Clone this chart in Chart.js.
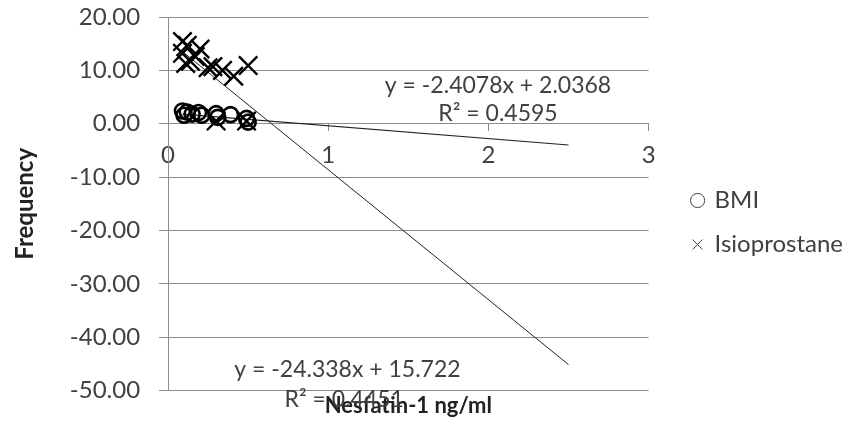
<!DOCTYPE html>
<html>
<head>
<meta charset="utf-8">
<script src="https://cdn.jsdelivr.net/npm/chart.js@4"></script>
<style>
  html, body { margin: 0; padding: 0; background: #fff; }
  #wrap { width: 848px; height: 425px; }
</style>
</head>
<body>
<div id="wrap"><canvas id="scatterChart"></canvas></div>
<script>
    "use strict";

    // BMI series (Nesfatin-1 ng/ml vs value)
    var bmiX = [0.09, 0.10, 0.12, 0.15, 0.19, 0.21, 0.30, 0.31, 0.39, 0.49, 0.50];
    var bmiY = [2.4, 1.6, 2.2, 1.8, 2.1, 1.6, 1.9, 1.2, 1.7, 1.0, 0.3];

    // Isioprostane series
    var isoX = [0.09, 0.12, 0.09, 0.20, 0.17, 0.14, 0.11, 0.25, 0.28, 0.34, 0.41, 0.50, 0.30, 0.49];
    var isoY = [15.4, 14.7, 13.2, 14.0, 12.6, 11.7, 11.3, 10.5, 10.7, 10.0, 8.9, 10.9, 0.5, 0.5];

    // linear trendlines as printed on the chart
    var bmiFit = { slope: -2.4078, intercept: 2.0368, r2: "0.4595" };
    var isoFit = { slope: -24.338, intercept: 15.722, r2: "0.4451" };
    var trendEnd = 2.5;

    var xTickValues = [0, 1, 2, 3];
    var yTickValues = [20, 10, 0, -10, -20, -30, -40, -50];

    var FONT = "Lato, 'Open Sans', sans-serif";
    var TEXT = "#404040";
    var GRID = "#8c8c8c";

    function points(xs, ys) {
        return xs.map(function (x, i) { return { x: x, y: ys[i] }; });
    }

    function trend(xs, fit) {
        var x0 = Math.min.apply(null, xs);
        return [
            { x: x0, y: fit.slope * x0 + fit.intercept },
            { x: trendEnd, y: fit.slope * trendEnd + fit.intercept }
        ];
    }

    function eqText(fit) {
        return "y = " + fit.slope + "x + " + fit.intercept;
    }

    // trendline labels, placed in data coordinates
    var trendLabels = {
        id: 'trendLabels',
        afterDatasetsDraw: function (chart) {
            var c = chart.ctx, xs = chart.scales.x, ys = chart.scales.y;
            c.save();
            c.fillStyle = TEXT;
            c.font = "23px " + FONT;
            c.textAlign = "center";
            c.textBaseline = "middle";
            function put(txt, vx, vy) {
                c.fillText(txt, xs.getPixelForValue(vx), ys.getPixelForValue(vy));
            }
            put(eqText(bmiFit), 2.06, 7.2);
            put("R\u00B2 = " + bmiFit.r2, 2.06, 1.9);
            put(eqText(isoFit), 1.12, -46.1);
            put("R\u00B2 = " + isoFit.r2, 1.10, -51.6);
            c.restore();
        }
    };

    // nudge the legend block right/down, away from the plot
    var legendShift = {
        id: 'legendShift',
        afterLayout: function (chart) {
            var lg = chart.legend;
            if (!lg) return;
            lg.left += 24; lg.right += 24;
            lg.top += 10; lg.bottom += 10;
        }
    };

    var ctx = document.getElementById("scatterChart");
    var myChart = new Chart(ctx, {
        type: 'scatter',
        data: {
            datasets: [{
                label: "BMI",
                data: points(bmiX, bmiY),
                pointStyle: 'circle',
                pointRadius: 7.5,
                pointHoverRadius: 7.5,
                borderColor: "#000",
                backgroundColor: "rgba(0,0,0,0)",
                pointBorderWidth: 2.6
            }, {
                label: "Isioprostane",
                data: points(isoX, isoY),
                pointStyle: 'crossRot',
                pointRadius: 13,
                pointHoverRadius: 13,
                borderColor: "#000",
                backgroundColor: "#000",
                pointBorderWidth: 2.4
            }, {
                label: "trend-bmi",
                type: 'line',
                data: trend(bmiX, bmiFit),
                borderColor: "#222",
                borderWidth: 1.2,
                pointRadius: 0,
                fill: false
            }, {
                label: "trend-iso",
                type: 'line',
                data: trend(isoX, isoFit),
                borderColor: "#222",
                borderWidth: 1,
                pointRadius: 0,
                fill: false
            }]
        },
        options: {
            responsive: true,
            maintainAspectRatio: false,
            animation: false,
            layout: { padding: { top: 0, right: 19, left: 11, bottom: 0 } },
            plugins: {
                tooltip: { enabled: false },
                legend: {
                    position: 'right',
                    labels: {
                        usePointStyle: true,
                        boxWidth: 10,
                        boxHeight: 10,
                        padding: 20,
                        color: TEXT,
                        font: { family: FONT, size: 24 },
                        filter: function (item) { return item.datasetIndex < 2; },
                        generateLabels: function (chart) {
                            var items = Chart.defaults.plugins.legend.labels.generateLabels(chart);
                            items.forEach(function (it) {
                                it.lineWidth = 1;
                                it.fillStyle = "rgba(0,0,0,0)";
                                it.strokeStyle = "#404040";
                            });
                            return items;
                        }
                    }
                }
            },
            scales: {
                x: {
                    type: 'linear',
                    position: { y: 0 },
                    min: 0,
                    max: 3,
                    afterBuildTicks: function (axis) {
                        axis.ticks = xTickValues.map(function (v) { return { value: v }; });
                    },
                    grid: {
                        drawOnChartArea: false,
                        drawTicks: true,
                        tickLength: 7,
                        color: GRID
                    },
                    border: { display: true, color: GRID },
                    ticks: {
                        color: TEXT,
                        padding: 10,
                        maxRotation: 0,
                        font: { family: FONT, size: 24 },
                        callback: function (v) { return String(v); }
                    }
                },
                xTitle: {
                    type: 'linear',
                    axis: 'x',
                    position: 'bottom',
                    min: 0,
                    max: 3,
                    grid: { display: false },
                    border: { display: false },
                    ticks: { display: false },
                    title: {
                        display: true,
                        text: "Nesfatin-1 ng/ml",
                        color: "#222",
                        padding: { top: -6, bottom: 6 },
                        font: { family: FONT, size: 22, weight: 'bold' }
                    }
                },
                y: {
                    type: 'linear',
                    min: -50,
                    max: 20,
                    afterBuildTicks: function (axis) {
                        axis.ticks = yTickValues.slice().reverse().map(function (v) { return { value: v }; });
                    },
                    afterFit: function (axis) {
                        axis.paddingTop = 17;
                        axis.paddingBottom = 17;
                    },
                    grid: {
                        color: GRID,
                        drawTicks: true,
                        tickLength: 9
                    },
                    border: { display: true, color: GRID },
                    ticks: {
                        color: TEXT,
                        padding: 19,
                        font: { family: FONT, size: 24 },
                        callback: function (v) { return Number(v).toFixed(2); }
                    },
                    title: {
                        display: true,
                        text: "Frequency",
                        color: "#222",
                        padding: { top: 0, bottom: 11 },
                        font: { family: FONT, size: 24, weight: 'bold' }
                    }
                }
            }
        },
        plugins: [trendLabels, legendShift]
    });
</script>
</body>
</html>
